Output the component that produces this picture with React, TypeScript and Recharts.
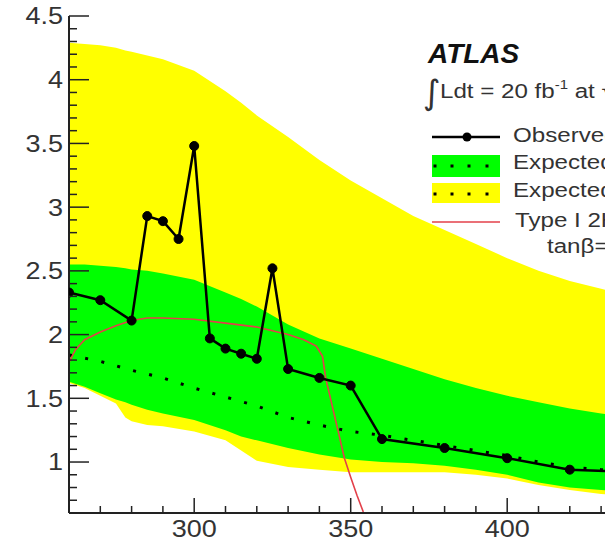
import React from "react";
import { ComposedChart, Area, Line, XAxis, YAxis } from "recharts";

// expected-limit bands, sampled on a common mass grid (GeV)
const BAND_MASS = [260, 265, 270, 275, 278, 280, 285, 290, 300, 310, 315, 320, 330, 340, 350, 360, 370, 380, 390, 400, 410, 420, 430, 440];
const TWO_SIGMA_HI = [4.29, 4.28, 4.27, 4.25, 4.23, 4.22, 4.19, 4.16, 4.07, 3.91, 3.82, 3.72, 3.55, 3.37, 3.21, 3.07, 2.93, 2.82, 2.71, 2.6, 2.5, 2.42, 2.36, 2.3];
const ONE_SIGMA_HI = [2.55, 2.55, 2.54, 2.53, 2.52, 2.51, 2.5, 2.48, 2.43, 2.33, 2.28, 2.22, 2.08, 1.97, 1.89, 1.81, 1.73, 1.65, 1.58, 1.52, 1.47, 1.42, 1.38, 1.35];
const ONE_SIGMA_LO = [1.63, 1.59, 1.54, 1.49, 1.47, 1.45, 1.41, 1.38, 1.33, 1.25, 1.2, 1.17, 1.11, 1.06, 1.02, 1.0, 0.99, 0.97, 0.94, 0.9, 0.84, 0.8, 0.78, 0.77];
const TWO_SIGMA_LO = [1.62, 1.58, 1.52, 1.46, 1.35, 1.32, 1.29, 1.28, 1.24, 1.17, 1.09, 1.01, 0.96, 0.94, 0.92, 0.92, 0.92, 0.92, 0.9, 0.87, 0.82, 0.78, 0.75, 0.73];

// median expected limit
const MEDIAN_MASS = [260, 270, 280, 290, 300, 310, 320, 330, 340, 350, 360, 370, 380, 390, 400, 410, 420, 430, 440];
const MEDIAN = [1.84, 1.79, 1.72, 1.66, 1.58, 1.51, 1.44, 1.35, 1.29, 1.24, 1.21, 1.17, 1.13, 1.09, 1.05, 1.0, 0.96, 0.94, 0.92];

// observed limit
const OBS_MASS = [260, 270, 280, 285, 290, 295, 300, 305, 310, 315, 320, 325, 330, 340, 350, 360, 380, 400, 420, 440];
const OBSERVED = [2.33, 2.27, 2.11, 2.93, 2.89, 2.75, 3.48, 1.97, 1.89, 1.85, 1.81, 2.52, 1.73, 1.66, 1.6, 1.18, 1.11, 1.03, 0.94, 0.92];

// Type I 2HDM prediction
const MODEL_MASS = [260, 262, 265, 270, 275, 280, 285, 290, 300, 310, 320, 330, 335, 339, 341, 342, 344, 346, 348, 350, 352, 354, 356, 358];
const MODEL = [1.78, 1.88, 1.96, 2.02, 2.07, 2.11, 2.13, 2.13, 2.12, 2.09, 2.06, 2.0, 1.96, 1.91, 1.83, 1.66, 1.45, 1.24, 1.03, 0.88, 0.74, 0.61, 0.49, 0.38];

const X_LABELS = [300, 350, 400];
const Y_LABELS = [1, 1.5, 2, 2.5, 3, 3.5, 4, 4.5];

const X_TICKS: number[] = [];
for (let m = 260; m <= 440; m += 10) X_TICKS.push(m);
const Y_TICKS: number[] = [];
for (let i = 6; i <= 45; i++) Y_TICKS.push(i / 10);

const bandData = BAND_MASS.map((mass, i) => ({
  mass,
  twoSigma: [TWO_SIGMA_LO[i], TWO_SIGMA_HI[i]],
  oneSigma: [ONE_SIGMA_LO[i], ONE_SIGMA_HI[i]],
}));
const medianData = MEDIAN_MASS.map((mass, i) => ({ mass, value: MEDIAN[i] }));
const observedData = OBS_MASS.map((mass, i) => ({ mass, value: OBSERVED[i] }));
const modelData = MODEL_MASS.map((mass, i) => ({ mass, value: MODEL[i] }));

const FONT = "'Liberation Sans', Arial, Helvetica, sans-serif";
const AXIS = "#222";
const LABEL = "#333";
const STRETCH = 1.15;

const isLabel = (v: number, labels: number[]) => labels.some((l) => Math.abs(l - v) < 1e-6);

const YTick = (props: any) => {
  const { x, y, payload } = props;
  const major = isLabel(payload.value, Y_LABELS);
  return (
    <g>
      <line x1={x} x2={x + (major ? 20 : 8)} y1={y} y2={y} stroke={AXIS} strokeWidth={1.5} />
      {major && (
        <text
          transform={`translate(${x - 6},${y}) scale(${STRETCH},1)`}
          textAnchor="end"
          dominantBaseline="central"
          fontFamily={FONT}
          fontSize={23.5}
          fill={LABEL}
        >
          {payload.value}
        </text>
      )}
    </g>
  );
};

const BottomTick = (props: any) => {
  const { x, y, payload } = props;
  const major = isLabel(payload.value, X_LABELS);
  return (
    <g>
      <line x1={x} x2={x} y1={y} y2={y - (major ? 15 : 7)} stroke={AXIS} strokeWidth={1.5} />
      {major && (
        <text
          transform={`translate(${x},${y + 24}) scale(${STRETCH},1)`}
          textAnchor="middle"
          fontFamily={FONT}
          fontSize={23.5}
          fill={LABEL}
        >
          {payload.value}
        </text>
      )}
    </g>
  );
};

const TopTick = (props: any) => {
  const { x, y, payload } = props;
  const major = isLabel(payload.value, X_LABELS);
  return <line x1={x} x2={x} y1={y} y2={y + (major ? 15 : 7)} stroke={AXIS} strokeWidth={1.5} />;
};

const Legend = () => (
  <svg width={605} height={538} style={{ position: "absolute", left: 0, top: 0, pointerEvents: "none" }}>
    <text x={428} y={63} fontFamily={FONT} fontSize={28} fontWeight="bold" fontStyle="italic" fill="#111">
      ATLAS
    </text>
    <text x={423} y={104} fontFamily="'DejaVu Sans', sans-serif" fontSize={34} fill={LABEL}>
      ∫
    </text>
    <g transform={`translate(440,98) scale(${STRETCH},1)`} fontFamily={FONT} fill={LABEL}>
      <text x={0} y={0} fontSize={21}>
        Ldt = 20 fb
        <tspan fontSize={13} dy={-9}>-1</tspan>
        <tspan dy={9}> at √s = 8 TeV</tspan>
      </text>
    </g>

    <line x1={432} x2={500} y1={137} y2={137} stroke="#000" strokeWidth={2.5} />
    <circle cx={467} cy={137} r={4.5} fill="#000" />

    <rect x={432} y={155} width={68} height={22} fill="#00ff00" />
    {[435, 452, 469, 487].map((cx) => (
      <rect key={`g${cx}`} x={cx - 1.5} y={164.5} width={3} height={3} fill="#000" />
    ))}
    <rect x={432} y={183} width={68} height={20} fill="#ffff00" />
    {[435, 452, 469, 487].map((cx) => (
      <rect key={`y${cx}`} x={cx - 1.5} y={192.5} width={3} height={3} fill="#000" />
    ))}
    <line x1={432} x2={500} y1={222} y2={222} stroke="#e3404a" strokeWidth={1.6} />

    <g fontFamily={FONT} fontSize={21} fill={LABEL}>
      <text transform={`translate(513,142) scale(${STRETCH},1)`}>Observed</text>
      <text transform={`translate(513,169) scale(${STRETCH},1)`}>Expected ± 1σ</text>
      <text transform={`translate(513,197) scale(${STRETCH},1)`}>Expected ± 2σ</text>
      <text transform={`translate(515,227) scale(${STRETCH},1)`}>Type I 2HDM, cos(β-α) = -0.1,</text>
      <text transform={`translate(547,253) scale(${STRETCH},1)`}>tanβ=1</text>
    </g>
  </svg>
);

export default function App() {
  return (
    <div
      style={{
        position: "fixed",
        left: 0,
        top: 0,
        width: 605,
        height: 538,
        overflow: "hidden",
        background: "#fff",
      }}
    >
      <ComposedChart width={700} height={560} margin={{ top: 16, right: 67.6, bottom: 7, left: 0 }}>
        <Area
          data={bandData}
          dataKey="twoSigma"
          type="linear"
          stroke="none"
          fill="#ffff00"
          fillOpacity={1}
          isAnimationActive={false}
        />
        <Area
          data={bandData}
          dataKey="oneSigma"
          type="linear"
          stroke="none"
          fill="#00ff00"
          fillOpacity={1}
          isAnimationActive={false}
        />
        <Line
          data={medianData}
          dataKey="value"
          type="linear"
          stroke="#000"
          strokeWidth={3}
          strokeDasharray="3 13.5"
          dot={false}
          activeDot={false}
          isAnimationActive={false}
        />
        <Line
          data={modelData}
          dataKey="value"
          type="linear"
          stroke="#e3404a"
          strokeWidth={1.6}
          dot={false}
          activeDot={false}
          isAnimationActive={false}
        />
        <Line
          data={observedData}
          dataKey="value"
          type="linear"
          stroke="#000"
          strokeWidth={2.5}
          dot={{ r: 4.5, fill: "#000", stroke: "#000", strokeWidth: 1 }}
          activeDot={false}
          isAnimationActive={false}
        />
        <XAxis
          dataKey="mass"
          type="number"
          domain={[260, 440]}
          allowDataOverflow
          ticks={X_TICKS}
          interval={0}
          tickSize={0}
          tickMargin={0}
          tickLine={false}
          tick={BottomTick}
          axisLine={{ stroke: AXIS, strokeWidth: 2 }}
          height={40}
        />
        <XAxis
          xAxisId="top"
          orientation="top"
          dataKey="mass"
          type="number"
          domain={[260, 440]}
          allowDataOverflow
          ticks={X_TICKS}
          interval={0}
          tickSize={0}
          tickMargin={0}
          tickLine={false}
          tick={TopTick}
          axisLine={{ stroke: AXIS, strokeWidth: 2 }}
          height={0}
        />
        <YAxis
          type="number"
          domain={[0.6, 4.5]}
          allowDataOverflow
          ticks={Y_TICKS}
          interval={0}
          tickSize={0}
          tickMargin={0}
          tickLine={false}
          tick={YTick}
          axisLine={{ stroke: AXIS, strokeWidth: 2 }}
          width={69}
        />
      </ComposedChart>
      <Legend />
    </div>
  );
}
